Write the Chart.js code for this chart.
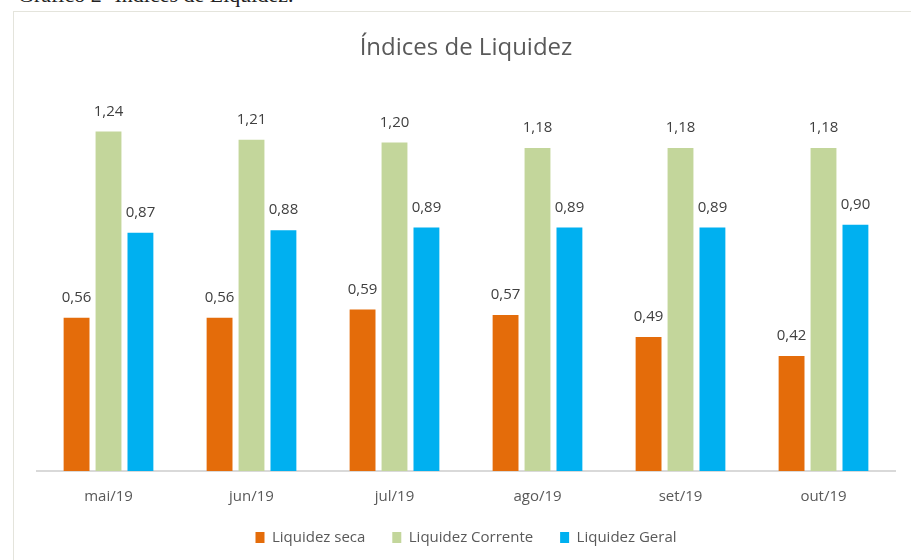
<!DOCTYPE html>
<html>
<head>
<meta charset="utf-8">
<script src="https://cdn.jsdelivr.net/npm/chart.js@4"></script>
<style>
  body { margin: 0; background: #fff; overflow: hidden; }
  #caption {
    position: absolute; left: 18px; top: -16px;
    font-family: "Liberation Serif", serif; font-size: 22px;
    line-height: 22px; color: #222; white-space: nowrap;
  }
  #frame {
    position: absolute; left: 13px; top: 11px; width: 910px; height: 600px;
    border: 1px solid #e4e4dc; background: #fff;
  }
  #wrap { position: absolute; left: 0; top: 0; width: 897px; height: 575px; }
</style>
</head>
<body>
<div id="caption">Gráfico 2 -Índices de Liquidez.</div>
<div id="frame"><div id="wrap"><canvas id="liqChart"></canvas></div></div>
<script>
// data
const months = ['mai/19', 'jun/19', 'jul/19', 'ago/19', 'set/19', 'out/19'];
const liquidezSeca = [0.56, 0.56, 0.59, 0.57, 0.49, 0.42];
const liquidezCorrente = [1.24, 1.21, 1.20, 1.18, 1.18, 1.18];
const liquidezGeral = [0.87, 0.88, 0.89, 0.89, 0.89, 0.90];

const fontFamily = '"Open Sans", sans-serif';

// draws the value above each bar, with a comma as decimal mark
const valueLabels = {
  id: 'valueLabels',
  afterDatasetsDraw(chart) {
    const ctx = chart.ctx;
    ctx.save();
    ctx.font = '15px ' + fontFamily;
    ctx.fillStyle = '#404040';
    ctx.textAlign = 'center';
    ctx.textBaseline = 'middle';
    chart.data.datasets.forEach((ds, i) => {
      chart.getDatasetMeta(i).data.forEach((bar, j) => {
        ctx.fillText(ds.data[j].toFixed(2).replace('.', ','), bar.x, bar.y - 20);
      });
    });
    ctx.restore();
  }
};

document.addEventListener('DOMContentLoaded', function () {
  const ctx = document.getElementById('liqChart').getContext('2d');
  new Chart(ctx, {
    type: 'bar',
    data: {
      labels: months,
      datasets: [
        { label: 'Liquidez seca', data: liquidezSeca, backgroundColor: '#E46C0A' },
        { label: 'Liquidez Corrente', data: liquidezCorrente, backgroundColor: '#C3D69B' },
        { label: 'Liquidez Geral', data: liquidezGeral, backgroundColor: '#00B0F0' }
      ]
    },
    options: {
      responsive: true,
      maintainAspectRatio: false,
      animation: false,
      layout: { padding: { left: 23, right: 16, top: 0, bottom: 32 } },
      datasets: { bar: { categoryPercentage: 0.67, barPercentage: 0.81 } },
      plugins: {
        title: {
          display: true,
          text: 'Índices de Liquidez',
          color: '#595959',
          font: { family: fontFamily, size: 24, weight: 'normal' },
          padding: { top: 22, bottom: 25 }
        },
        legend: {
          position: 'bottom',
          labels: {
            color: '#595959',
            font: { family: fontFamily, size: 15 },
            boxWidth: 9,
            boxHeight: 11,
            padding: 23,
            // a trailing space widens the gap between items, last one left as is
            generateLabels(chart) {
              const items = Chart.defaults.plugins.legend.labels.generateLabels(chart);
              items.forEach((it, i) => { if (i < items.length - 1) it.text += ' '; });
              return items;
            }
          }
        },
        tooltip: { enabled: false }
      },
      scales: {
        x: {
          grid: { display: false },
          border: { color: '#d9d9d9', width: 2 },
          ticks: { color: '#595959', font: { family: fontFamily, size: 15 }, padding: 9 },
          afterFit(scale) { scale.height = 36; }
        },
        y: {
          display: false,
          min: 0,
          max: 1.4
        }
      }
    },
    plugins: [valueLabels]
  });
});
</script>
</body>
</html>
